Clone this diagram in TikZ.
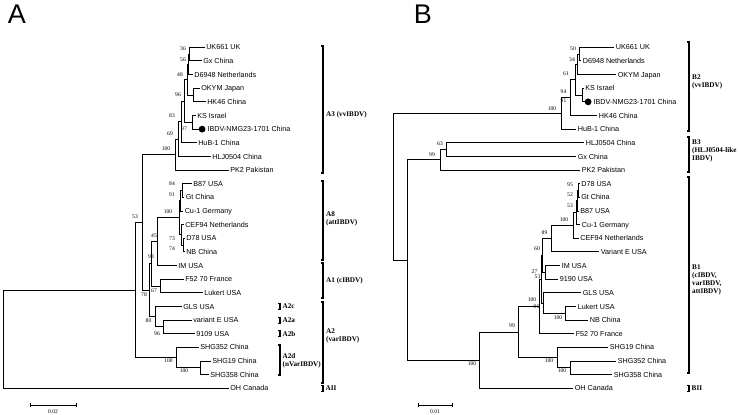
\documentclass[tikz,border=0pt]{standalone}
\usepackage{fontspec}
\setmainfont{Liberation Serif}
\newfontfamily\arialf{Liberation Sans}
\begin{document}
\begin{tikzpicture}[x=1pt,y=-1pt,
 br/.style={line width=0.95pt},
 leaf/.style={anchor=west, inner xsep=1.6pt, inner ysep=0pt, text height=5.2pt, text depth=0pt, font=\arialf\fontsize{7.2}{8}\selectfont},
 bs/.style={inner sep=0pt, font=\fontsize{5.6}{5.6}\selectfont},
 clab/.style={anchor=west, inner sep=0pt, align=left, font=\bfseries\fontsize{7.2}{7.9}\selectfont},
 brk/.style={line width=1.2pt},
 dotn/.style={circle, fill=black, inner sep=0pt, minimum size=6.8pt, anchor=west},
 panel/.style={font=\arialf\fontsize{27}{27}\selectfont, inner sep=0pt},
 sbl/.style={inner sep=0pt, font=\fontsize{5.6}{5.6}\selectfont}]
\useasboundingbox (0,0) rectangle (740,415);
\fill[white] (0,0) rectangle (740,415);

\node[panel] (pA) at (17,14) {A};
\node[panel] (pB) at (423,14) {B};

% ---------------- Panel A leaves
\node[leaf] (aUK) at (204.5,47.3) {UK661 UK};
\node[leaf] (aGx) at (201.5,60.94) {Gx China};
\node[leaf] (aD69) at (192.5,74.58) {D6948 Netherlands};
\node[leaf] (aOK) at (199.5,88.22) {OKYM Japan};
\node[leaf] (aHK) at (205.5,101.86) {HK46 China};
\node[leaf] (aKS) at (195.5,115.5) {KS Israel};
\node[dotn] (aDot) at (198.5,129.14) {};
\node[leaf] (aIB) at (aDot.east) {IBDV-NMG23-1701 China};
\node[leaf] (aHuB) at (196.5,142.78) {HuB-1 China};
\node[leaf] (aHLJ) at (210.5,156.42) {HLJ0504 China};
\node[leaf] (aPK) at (228.5,170.06) {PK2 Pakistan};
\node[leaf] (aB87) at (191.5,183.7) {B87 USA};
\node[leaf] (aGt) at (184,197.34) {Gt China};
\node[leaf] (aCu) at (183,210.98) {Cu-1 Germany};
\node[leaf] (aCEF) at (183.5,224.62) {CEF94 Netherlands};
\node[leaf] (aD78) at (184.5,238.26) {D78 USA};
\node[leaf] (aNB) at (184.5,251.9) {NB China};
\node[leaf] (aIM) at (176.5,265.54) {IM USA};
\node[leaf] (aF52) at (183.5,279.18) {F52 70 France};
\node[leaf] (aLuk) at (202.5,292.82) {Lukert USA};
\node[leaf] (aGLS) at (181.5,306.46) {GLS USA};
\node[leaf] (aVE) at (191.5,320.1) {variant E USA};
\node[leaf] (a9109) at (194.5,333.74) {9109 USA};
\node[leaf] (aS352) at (198.5,347.38) {SHG352 China};
\node[leaf] (aS19) at (210.5,361.02) {SHG19 China};
\node[leaf] (aS358) at (208.5,374.66) {SHG358 China};
\node[leaf] (aOH) at (228.5,388.3) {OH Canada};

% ---------------- Panel A internal nodes
\coordinate (n36) at (189,54.12);
\coordinate (n56) at (188,64.35);
\coordinate (nOK) at (193,95.04);
\coordinate (n48) at (187,79.7);
\coordinate (nKS) at (192,122.32);
\coordinate (n96) at (184,101.01);
\coordinate (n83) at (181,121.9);
\coordinate (n69) at (178,139.16);
\coordinate (n100A3) at (175,154.61);
\coordinate (n84) at (182,190.52);
\coordinate (n91) at (180,200.75);
\coordinate (n74) at (183,245.08);
\coordinate (n73) at (181,234.85);
\coordinate (n100A8) at (179,217.8);
\coordinate (n45) at (157,241.67);
\coordinate (n67) at (160,286);
\coordinate (n98) at (151,263.84);
\coordinate (n96a) at (163,326.92);
\coordinate (n80) at (155,316.69);
\coordinate (n78) at (149,290.27);
\coordinate (n100t) at (142,222.44);
\coordinate (nS2) at (200,367.84);
\coordinate (nS1) at (176,357.61);
\coordinate (n53) at (135,290.03);
\coordinate (rA) at (3,339.17);

\foreach \p/\c in {n36/aUK.west,n36/aGx.west,n56/n36,n56/aD69.west,nOK/aOK.west,nOK/aHK.west,
  n48/n56,n48/nOK,nKS/aKS.west,nKS/aDot.west,n96/n48,n96/nKS,n83/n96,n83/aHuB.west,
  n69/n83,n69/aHLJ.west,n100A3/n69,n100A3/aPK.west,n84/aB87.west,n84/aGt.west,
  n91/n84,n91/aCu.west,n74/aD78.west,n74/aNB.west,n73/aCEF.west,n73/n74,
  n100A8/n91,n100A8/n73,n45/n100A8,n45/aIM.west,n67/aF52.west,n67/aLuk.west,
  n98/n45,n98/n67,n96a/aVE.west,n96a/a9109.west,n80/aGLS.west,n80/n96a,
  n78/n98,n78/n80,n100t/n100A3,n100t/n78,nS2/aS19.west,nS2/aS358.west,
  nS1/aS352.west,nS1/nS2,n53/n100t,n53/nS1,rA/n53,rA/aOH.west}
  \draw[br] (\p) |- (\c);

% bootstrap A
\node[bs] (bA1) at (183,49) {36};
\node[bs] (bA2) at (183,59.5) {56};
\node[bs] (bA3) at (180,75) {48};
\node[bs] (bA4) at (178,95) {96};
\node[bs] (bA5) at (172,116) {83};
\node[bs] (bA6) at (184,129) {97};
\node[bs] (bA7) at (170,134) {69};
\node[bs] (bA8) at (166,149) {100};
\node[bs] (bA9) at (172,184) {84};
\node[bs] (bA10) at (172,194.5) {91};
\node[bs] (bA11) at (168,212) {100};
\node[bs] (bA12) at (172,238.5) {73};
\node[bs] (bA13) at (172,249) {74};
\node[bs] (bA14) at (154,236) {45};
\node[bs] (bA15) at (151,257) {98};
\node[bs] (bA16) at (154,290.5) {67};
\node[bs] (bA17) at (144,295) {78};
\node[bs] (bA18) at (148.5,320.5) {80};
\node[bs] (bA19) at (157,334) {96};
\node[bs] (bA20) at (168.5,361) {100};
\node[bs] (bA21) at (184,371) {100};
\node[bs] (bA22) at (135,217) {53};

% brackets A
\draw[brk] (321,46) -- (323,46) -- (323,173) -- (321,173);
\draw[brk] (321,181) -- (323,181) -- (323,260) -- (321,260);
\draw[brk] (321,263) -- (323,263) -- (323,298) -- (321,298);
\draw[brk] (321,302) -- (323,302) -- (323,383) -- (321,383);
\draw[brk] (321,385.3) -- (323,385.3) -- (323,391.3) -- (321,391.3);
\draw[brk] (278,303.5) -- (280,303.5) -- (280,309.5) -- (278,309.5);
\draw[brk] (278,317.1) -- (280,317.1) -- (280,323.1) -- (278,323.1);
\draw[brk] (278,330.7) -- (280,330.7) -- (280,336.7) -- (278,336.7);
\draw[brk] (278,345) -- (280,345) -- (280,375) -- (278,375);
\node[clab] (cA3) at (326,115) {A3 (vvIBDV)};
\node[clab] (cA8) at (326,219) {A8\\(attIBDV)};
\node[clab] (cA1) at (326,280.5) {A1 (cIBDV)};
\node[clab] (cA2) at (326,335.5) {A2\\(varIBDV)};
\node[clab] (cAII) at (325.5,388.3) {AII};
\node[clab] (cA2c) at (282.5,306.5) {A2c};
\node[clab] (cA2a) at (282.5,320.1) {A2a};
\node[clab] (cA2b) at (282.5,333.7) {A2b};
\node[clab] (cA2d) at (282.5,361) {A2d\\(nVarIBDV)};

% scale A
\coordinate (sA1) at (30,405);
\coordinate (sA2) at (76,405);
\draw[br] (sA1) -- (sA2);
\draw[br] ([yshift=-2pt]sA1) -- ([yshift=2pt]sA1);
\draw[br] ([yshift=-2pt]sA2) -- ([yshift=2pt]sA2);
\node[sbl] (sAl) at (53,411.5) {0.02};

% ---------------- Panel B leaves
\node[leaf] (bUK) at (614,47.3) {UK661 UK};
\node[leaf] (bD69) at (581,60.94) {D6948 Netherlands};
\node[leaf] (bOK) at (616,74.58) {OKYM Japan};
\node[leaf] (bKS) at (583.5,88.22) {KS Israel};
\node[dotn] (bDot) at (584.5,101.86) {};
\node[leaf] (bIB) at (bDot.east) {IBDV-NMG23-1701 China};
\node[leaf] (bHK) at (597,115.5) {HK46 China};
\node[leaf] (bHuB) at (576,129.14) {HuB-1 China};
\node[leaf] (bHLJ) at (584,142.78) {HLJ0504 China};
\node[leaf] (bGx) at (576,156.42) {Gx China};
\node[leaf] (bPK) at (580,170.06) {PK2 Pakistan};
\node[leaf] (bD78) at (579.5,183.7) {D78 USA};
\node[leaf] (bGt) at (579.5,197.34) {Gt China};
\node[leaf] (bB87) at (578.5,210.98) {B87 USA};
\node[leaf] (bCu) at (580,224.62) {Cu-1 Germany};
\node[leaf] (bCEF) at (578.5,238.26) {CEF94 Netherlands};
\node[leaf] (bVE) at (599,251.9) {Variant E USA};
\node[leaf] (bIM) at (560,265.54) {IM USA};
\node[leaf] (b9190) at (558,279.18) {9190 USA};
\node[leaf] (bGLS) at (581,292.82) {GLS USA};
\node[leaf] (bLuk) at (576,306.46) {Lukert USA};
\node[leaf] (bNB) at (588,320.1) {NB China};
\node[leaf] (bF52) at (574,333.74) {F52 70 France};
\node[leaf] (bS19) at (608,347.38) {SHG19 China};
\node[leaf] (bS352) at (616,361.02) {SHG352 China};
\node[leaf] (bS358) at (612,374.66) {SHG358 China};
\node[leaf] (bOH) at (573,388.3) {OH Canada};

% ---------------- Panel B internal nodes
\coordinate (m50) at (579,54.12);
\coordinate (m34) at (577,64.35);
\coordinate (mKS) at (582,95.04);
\coordinate (m61) at (575,79.7);
\coordinate (m94) at (570,97.6);
\coordinate (m100B2) at (561,113.37);
\coordinate (m63) at (446,149.6);
\coordinate (m99B3) at (440,159.83);
\coordinate (m95) at (578,190.52);
\coordinate (m52) at (577,200.75);
\coordinate (m53) at (576,212.69);
\coordinate (m100A) at (573,225.47);
\coordinate (m89) at (551,238.69);
\coordinate (mIM) at (545,272.36);
\coordinate (m60) at (542,255.52);
\coordinate (mLN) at (565,313.28);
\coordinate (m96) at (543,303.05);
\coordinate (mX) at (541,279.29);
\coordinate (m100B1) at (539,306.5);
\coordinate (mS2) at (570,367.84);
\coordinate (mS1) at (557,357.61);
\coordinate (m99) at (518,332.06);
\coordinate (m100r) at (479,360.18);
\coordinate (m407) at (407,260);
\coordinate (rB) at (393,186.69);

\foreach \p/\c in {m50/bUK.west,m50/bD69.west,m34/m50,m34/bOK.west,mKS/bKS.west,mKS/bDot.west,
  m61/m34,m61/mKS,m94/m61,m94/bHK.west,m100B2/m94,m100B2/bHuB.west,
  m63/bHLJ.west,m63/bGx.west,m99B3/m63,m99B3/bPK.west,
  m95/bD78.west,m95/bGt.west,m52/m95,m52/bB87.west,m53/m52,m53/bCu.west,
  m100A/m53,m100A/bCEF.west,m89/m100A,m89/bVE.west,mIM/bIM.west,mIM/b9190.west,
  m60/m89,m60/mIM,mLN/bLuk.west,mLN/bNB.west,m96/bGLS.west,m96/mLN,
  mX/m60,mX/m96,m100B1/mX,m100B1/bF52.west,mS2/bS352.west,mS2/bS358.west,
  mS1/bS19.west,mS1/mS2,m99/m100B1,m99/mS1,m100r/m99,m100r/bOH.west,
  m407/m99B3,m407/m100r,rB/m100B2,rB/m407}
  \draw[br] (\p) |- (\c);

% bootstrap B
\node[bs] (bB1) at (573,49) {50};
\node[bs] (bB2) at (572,60) {34};
\node[bs] (bB3) at (566,74) {61};
\node[bs] (bB4) at (563.5,92) {94};
\node[bs] (bB5) at (563.5,101) {91};
\node[bs] (bB6) at (552,108.5) {100};
\node[bs] (bB7) at (440,144) {63};
\node[bs] (bB8) at (432,154.5) {99};
\node[bs] (bB9) at (570,185) {95};
\node[bs] (bB10) at (570,195) {52};
\node[bs] (bB11) at (570,206) {53};
\node[bs] (bB12) at (564,219.5) {100};
\node[bs] (bB13) at (544.5,232.5) {89};
\node[bs] (bB14) at (537,249) {60};
\node[bs] (bB15) at (534.5,272) {27};
\node[bs] (bB16) at (537.5,277) {53};
\node[bs] (bB17) at (532,299.5) {100};
\node[bs] (bB18) at (536.5,307) {96};
\node[bs] (bB19) at (558,317.5) {100};
\node[bs] (bB20) at (512,325.5) {99};
\node[bs] (bB21) at (472,364) {100};
\node[bs] (bB22) at (549,361) {100};
\node[bs] (bB23) at (562,371) {100};

% brackets B
\draw[brk] (687,42) -- (689,42) -- (689,131) -- (687,131);
\draw[brk] (687,137) -- (689,137) -- (689,172) -- (687,172);
\draw[brk] (687,177) -- (689,177) -- (689,373) -- (687,373);
\draw[brk] (687,385.3) -- (689,385.3) -- (689,391.3) -- (687,391.3);
\node[clab] (cB2) at (692,82) {B2\\(vvIBDV)};
\node[clab] (cB3) at (692,151) {B3\\(HLJ0504-like\\IBDV)};
\node[clab] (cB1) at (692,280) {B1\\(cIBDV,\\varIBDV,\\attIBDV)};
\node[clab] (cBII) at (691.5,388.3) {BII};

% scale B
\coordinate (sB1) at (418,405);
\coordinate (sB2) at (452,405);
\draw[br] (sB1) -- (sB2);
\draw[br] ([yshift=-2pt]sB1) -- ([yshift=2pt]sB1);
\draw[br] ([yshift=-2pt]sB2) -- ([yshift=2pt]sB2);
\node[sbl] (sBl) at (435,411.5) {0.01};
\end{tikzpicture}
\end{document}
